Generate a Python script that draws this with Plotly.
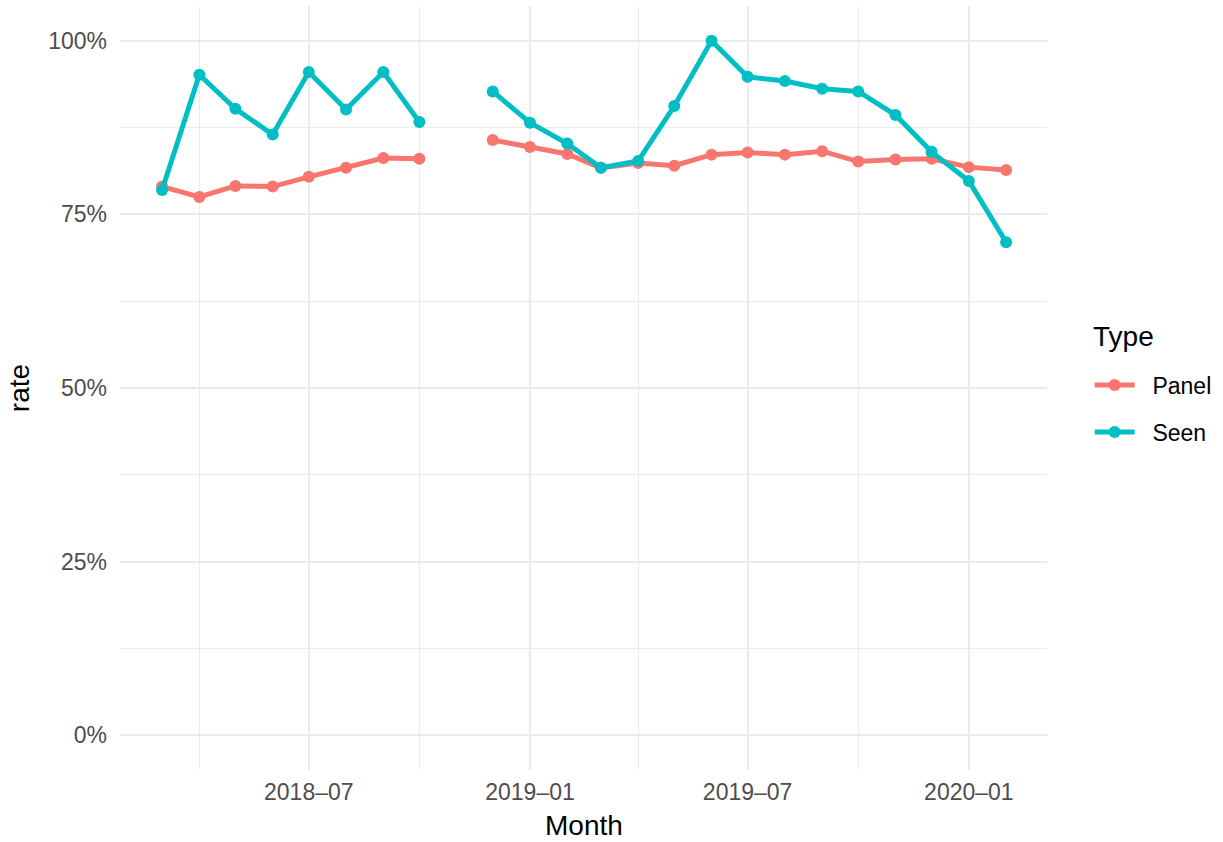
import plotly.graph_objects as go

months = ["2018-03-01", "2018-04-01", "2018-05-01", "2018-06-01", "2018-07-01",
          "2018-08-01", "2018-09-01", "2018-10-01", "2018-11-01", "2018-12-01",
          "2019-01-01", "2019-02-01", "2019-03-01", "2019-04-01", "2019-05-01",
          "2019-06-01", "2019-07-01", "2019-08-01", "2019-09-01", "2019-10-01",
          "2019-11-01", "2019-12-01", "2020-01-01", "2020-02-01"]

panel = [0.790, 0.775, 0.791, 0.790, 0.804, 0.817, 0.831, 0.830, None, 0.857,
         0.847, 0.837, 0.817, 0.824, 0.820, 0.836, 0.839, 0.836, 0.841, 0.826,
         0.829, 0.830, 0.818, 0.814]

seen = [0.785, 0.951, 0.902, 0.865, 0.955, 0.901, 0.955, 0.883, None, 0.927,
        0.882, 0.852, 0.817, 0.827, 0.906, 1.000, 0.948, 0.942, 0.931, 0.927,
        0.893, 0.840, 0.798, 0.710]

y_ticks = [0, 0.25, 0.5, 0.75, 1.0]

series = [("Panel", panel, "#F8766D"), ("Seen", seen, "#00BFC4")]

fig = go.Figure()
for name, vals, color in series:
    fig.add_trace(go.Scatter(
        x=months, y=vals, name="\u00a0\u00a0" + name, mode="lines+markers",
        line=dict(color=color, width=5),
        marker=dict(color=color, size=12),
        connectgaps=False,
        legendgroup=name,
    ))

font = "Liberation Sans, Arial, sans-serif"
grid = "#EBEBEB"

fig.update_layout(
    width=1223, height=842,
    paper_bgcolor="white", plot_bgcolor="white",
    margin=dict(l=120, r=174, t=6, b=72),
    font=dict(family=font, color="black"),
    showlegend=True,
    legend=dict(
        font=dict(size=23, color="black"),
        x=1.046, xanchor="left", y=0.473, yanchor="middle",
        tracegroupgap=14, bgcolor="rgba(0,0,0,0)",
        itemwidth=40,
    ),
    annotations=[
        dict(text="Type", xref="paper", yref="paper", x=1.0474, y=0.568,
             xanchor="left", yanchor="middle", showarrow=False,
             font=dict(size=28, color="black")),
        dict(text="Month", xref="paper", yref="paper", x=0.5, y=-0.072,
             xanchor="center", yanchor="middle", showarrow=False,
             font=dict(size=28, color="black")),
    ],
    xaxis=dict(
        type="date",
        range=["2018-01-25", "2020-03-06"],
        dtick="M6", tick0="2018-01-01", tickformat="%Y\u2013%m",
        showgrid=True, gridcolor=grid, gridwidth=2,
        minor=dict(dtick="M3", tick0="2018-01-01", showgrid=True, gridcolor=grid, gridwidth=1),
        zeroline=False, showline=False, ticks="",
        tickfont=dict(size=23, color="#4D4D4D"),
        ticklabelstandoff=6,
    ),
    yaxis=dict(
        range=[-0.05, 1.05],
        tickvals=y_ticks, tickformat=".0%",
        showgrid=True, gridcolor=grid, gridwidth=2,
        minor=dict(dtick=0.125, tick0=0, showgrid=True, gridcolor=grid, gridwidth=1),
        zeroline=False, showline=False, ticks="",
        tickfont=dict(size=23, color="#4D4D4D"),
        ticklabelstandoff=12,
        title=dict(text="rate", font=dict(size=28, color="black"), standoff=10),
    ),
)

fig.write_html("out.html", config={"displayModeBar": False},
               post_script="document.body.style.margin='0px';")
